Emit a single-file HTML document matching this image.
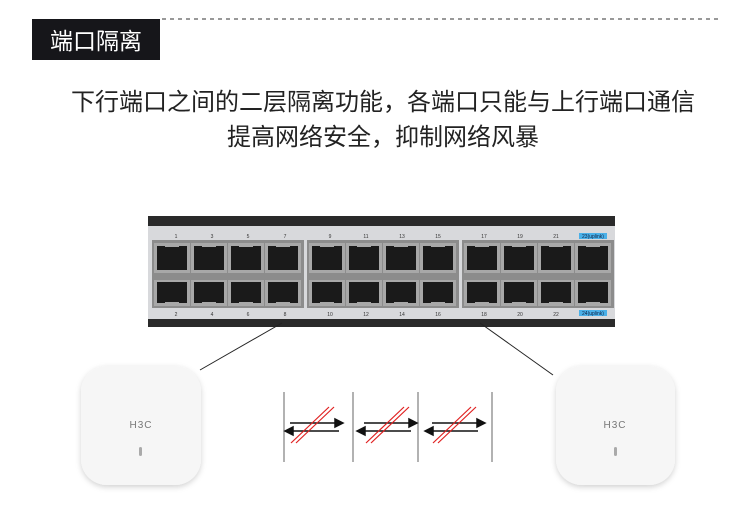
<!DOCTYPE html>
<html><head><meta charset="utf-8"><style>
html,body{margin:0;padding:0;background:#fff;}
body{width:750px;height:525px;position:relative;overflow:hidden;font-family:"Liberation Sans","Noto Sans CJK SC",sans-serif;}
.t{position:absolute;left:0;width:766px;text-align:center;font-size:24px;line-height:30px;color:#222;}
</style></head><body>
<svg width="750" height="525" style="position:absolute;left:0;top:0">
<defs>
<g id="pt"><rect x="0" y="0" width="36" height="30" fill="#a8a8a8"/><rect x="3" y="3" width="30" height="24" fill="#1a1a1a"/><rect x="11" y="0" width="14" height="4" fill="#a8a8a8"/></g>
<g id="pb"><rect x="0" y="0" width="36" height="26" fill="#a8a8a8"/><rect x="3" y="2" width="30" height="21" fill="#1a1a1a"/><rect x="11" y="22" width="14" height="4" fill="#a8a8a8"/></g>
<filter id="sh" x="-20%" y="-20%" width="140%" height="140%"><feDropShadow dx="0" dy="2" stdDeviation="3" flood-color="#000" flood-opacity="0.18"/></filter>
</defs>
<rect x="32" y="19" width="128" height="41" fill="#16161a"/>
<text x="96" y="49" font-size="23" fill="#fff" text-anchor="middle" font-family="Liberation Sans,Noto Sans CJK SC,sans-serif">端口隔离</text>
<line x1="162" y1="19" x2="722" y2="19" stroke="#333" stroke-width="1" stroke-dasharray="4,4"/>
<rect x="148" y="216" width="467" height="111" fill="#2a2a2a"/>
<rect x="148" y="226" width="467" height="93" fill="#d8d9dc"/>
<rect x="152" y="240" width="152" height="68" fill="#8c8c8c"/>
<rect x="307" y="240" width="152" height="68" fill="#8c8c8c"/>
<rect x="462" y="240" width="152" height="68" fill="#8c8c8c"/>
<g>
<use href="#pt" x="154" y="243"/><use href="#pt" x="191" y="243"/><use href="#pt" x="228" y="243"/><use href="#pt" x="265" y="243"/>
<use href="#pt" x="309" y="243"/><use href="#pt" x="346" y="243"/><use href="#pt" x="383" y="243"/><use href="#pt" x="420" y="243"/>
<use href="#pt" x="464" y="243"/><use href="#pt" x="501" y="243"/><use href="#pt" x="538" y="243"/><use href="#pt" x="575" y="243"/>
<use href="#pb" x="154" y="280"/><use href="#pb" x="191" y="280"/><use href="#pb" x="228" y="280"/><use href="#pb" x="265" y="280"/>
<use href="#pb" x="309" y="280"/><use href="#pb" x="346" y="280"/><use href="#pb" x="383" y="280"/><use href="#pb" x="420" y="280"/>
<use href="#pb" x="464" y="280"/><use href="#pb" x="501" y="280"/><use href="#pb" x="538" y="280"/><use href="#pb" x="575" y="280"/>
</g>
<g font-size="5" fill="#333" text-anchor="middle" font-family="Liberation Sans,sans-serif">
<text x="176" y="238">1</text><text x="212" y="238">3</text><text x="248" y="238">5</text><text x="285" y="238">7</text>
<text x="330" y="238">9</text><text x="366" y="238">11</text><text x="402" y="238">13</text><text x="438" y="238">15</text>
<text x="484" y="238">17</text><text x="520" y="238">19</text><text x="556" y="238">21</text>
<text x="176" y="316">2</text><text x="212" y="316">4</text><text x="248" y="316">6</text><text x="285" y="316">8</text>
<text x="330" y="316">10</text><text x="366" y="316">12</text><text x="402" y="316">14</text><text x="438" y="316">16</text>
<text x="484" y="316">18</text><text x="520" y="316">20</text><text x="556" y="316">22</text>
</g>
<rect x="579" y="233" width="28" height="6" fill="#4ab0e8"/><text x="593" y="238" font-size="5" text-anchor="middle" fill="#124">23(uplink)</text>
<rect x="579" y="310" width="28" height="6" fill="#4ab0e8"/><text x="593" y="315" font-size="5" text-anchor="middle" fill="#124">24(uplink)</text>
<line x1="282" y1="323" x2="200" y2="370" stroke="#222" stroke-width="1"/>
<line x1="480" y1="323" x2="553" y2="375" stroke="#222" stroke-width="1"/>
<rect x="81" y="366" width="120" height="119" rx="26" fill="#f6f6f6" filter="url(#sh)"/>
<text x="141" y="428" font-size="10" fill="#777" text-anchor="middle" letter-spacing="1">H3C</text>
<rect x="139" y="447" width="3" height="9" rx="1.5" fill="#aaa"/>
<rect x="556" y="366" width="119" height="119" rx="26" fill="#f6f6f6" filter="url(#sh)"/>
<text x="615" y="428" font-size="10" fill="#777" text-anchor="middle" letter-spacing="1">H3C</text>
<rect x="614" y="447" width="3" height="9" rx="1.5" fill="#aaa"/>
<g stroke="#999" stroke-width="1.5">
<line x1="284" y1="392" x2="284" y2="462"/><line x1="353" y1="392" x2="353" y2="462"/>
<line x1="418" y1="392" x2="418" y2="462"/><line x1="492" y1="392" x2="492" y2="462"/>
</g>
<g stroke="#111" stroke-width="1.5" fill="#111">
<line x1="290" y1="423" x2="337" y2="423"/><polygon points="343,423 335,419 335,427"/>
<line x1="292" y1="431" x2="339" y2="431"/><polygon points="285,431 293,427 293,435"/>
<line x1="364" y1="423" x2="411" y2="423"/><polygon points="417,423 409,419 409,427"/>
<line x1="364" y1="431" x2="411" y2="431"/><polygon points="357,431 365,427 365,435"/>
<line x1="432" y1="423" x2="479" y2="423"/><polygon points="485,423 477,419 477,427"/>
<line x1="432" y1="431" x2="478" y2="431"/><polygon points="425,431 433,427 433,435"/>
</g>
<g stroke="#e02020" stroke-width="1.2">
<line x1="291" y1="443" x2="329" y2="407"/><line x1="296" y1="443" x2="334" y2="407"/>
<line x1="366" y1="443" x2="404" y2="407"/><line x1="371" y1="443" x2="409" y2="407"/>
<line x1="433" y1="443" x2="471" y2="407"/><line x1="438" y1="443" x2="476" y2="407"/>
</g>
</svg>
<div class="t" style="top:88px">下行端口之间的二层隔离功能，各端口只能与上行端口通信</div>
<div class="t" style="top:123px">提高网络安全，抑制网络风暴</div>
</body></html>
